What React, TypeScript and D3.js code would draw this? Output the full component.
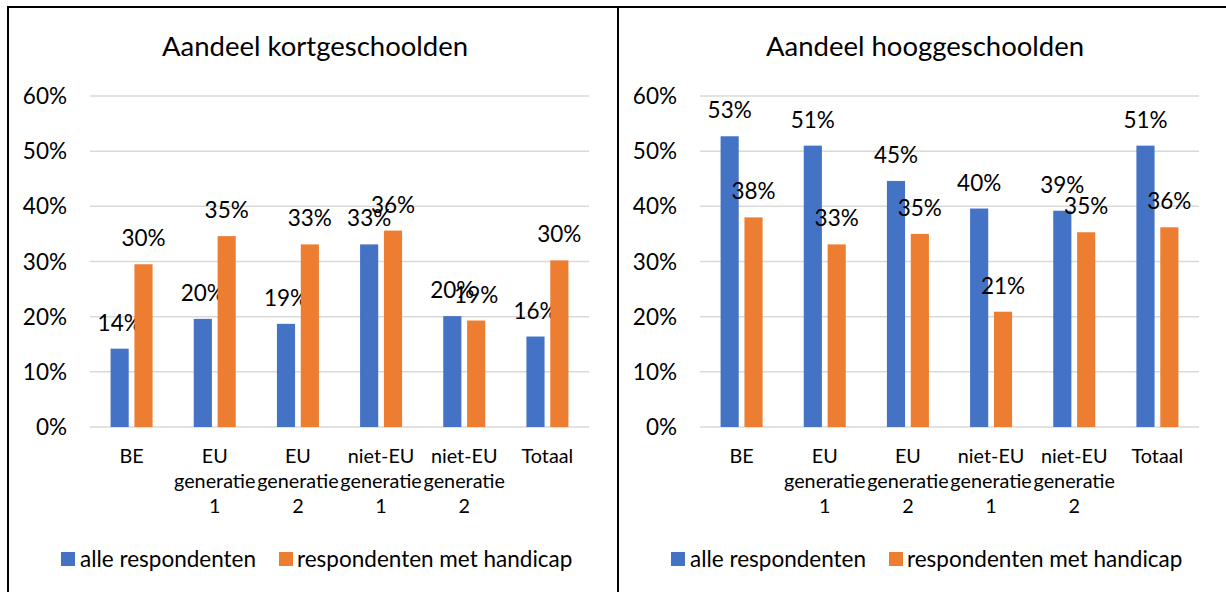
import React from "react";
import * as d3 from "d3";

const categories = ["BE", "EU generatie 1", "EU generatie 2", "niet-EU generatie 1", "niet-EU generatie 2", "Totaal"];
const seriesNames = ["alle respondenten", "respondenten met handicap"];
const kortAlle = [0.142, 0.196, 0.187, 0.331, 0.201, 0.164];
const kortHandicap = [0.295, 0.346, 0.331, 0.356, 0.193, 0.302];
const hoogAlle = [0.527, 0.51, 0.446, 0.396, 0.392, 0.51];
const hoogHandicap = [0.38, 0.331, 0.35, 0.209, 0.353, 0.362];
const yTicks = [0, 0.1, 0.2, 0.3, 0.4, 0.5, 0.6];
const colors = ["#4472C4", "#ED7D31"];

const FONT = "Lato, 'Open Sans', sans-serif";
const FS = 22.5;

function Panel({ x0, title, a, b }: { x0: number; title: string; a: number[]; b: number[] }) {
  const left = x0 + 90;
  const right = x0 + 589;
  const y = d3.scaleLinear().domain([0, 0.6]).range([427, 96]);
  const xb = d3.scaleBand().domain(categories).range([left, right]).paddingInner(0).paddingOuter(0);
  const inner = d3.scaleBand().domain(["0", "1"]).range([0, 42]).paddingInner(0.24);
  const fmt = d3.format(".0%");
  const series = [a, b];
  return (
    <g>
      <text x={x0 + 315} y={56} textAnchor="middle" fontSize={27.5} fontFamily={FONT} fill="#000">
        {title}
      </text>
      {yTicks.map((t) => (
        <g key={t}>
          <line x1={left} x2={right} y1={y(t)} y2={y(t)} stroke="#d9d9d9" strokeWidth={1.5} />
          <text x={x0 + 67} y={y(t)} dy="0.36em" textAnchor="end" fontSize={FS} fontFamily={FONT} fill="#000">
            {fmt(t)}
          </text>
        </g>
      ))}
      {categories.map((c, i) => {
        const cx = (xb(c) as number) + xb.bandwidth() / 2;
        const gx = cx - 21;
        return (
          <g key={c}>
            {series.map((s, k) => {
              const bx = gx + (inner(String(k)) as number);
              const bw = inner.bandwidth();
              return (
                <g key={k}>
                  <rect x={bx} y={y(s[i])} width={bw} height={y(0) - y(s[i])} fill={colors[k]} />
                  <text x={bx + bw / 2} y={y(s[i]) - 18} textAnchor="middle" fontSize={FS} fontFamily={FONT} fill="#000">
                    {fmt(s[i])}
                  </text>
                </g>
              );
            })}
            {c.split(" ").map((w, j) => (
              <text key={j} x={cx} y={463 + j * 25} textAnchor="middle" fontSize={19.8} fontFamily={FONT} fill="#000">
                {w}
              </text>
            ))}
          </g>
        );
      })}
      <rect x={x0 + 61} y={552} width={14} height={14} fill={colors[0]} />
      <text x={x0 + 80} y={559} dy="0.35em" fontSize={FS} fontFamily={FONT} fill="#000">
        {seriesNames[0]}
      </text>
      <rect x={x0 + 279} y={552} width={14} height={14} fill={colors[1]} />
      <text x={x0 + 297} y={559} dy="0.35em" fontSize={FS} fontFamily={FONT} fill="#000">
        {seriesNames[1]}
      </text>
    </g>
  );
}

export default function App() {
  return (
    <div style={{ position: "absolute", left: 0, top: 0 }}>
      <svg width={1226} height={592} style={{ display: "block", background: "#fff" }}>
        <rect x={0} y={0} width={1226} height={592} fill="#fff" />
        <Panel x0={0} title="Aandeel kortgeschoolden" a={kortAlle} b={kortHandicap} />
        <Panel x0={610} title="Aandeel hooggeschoolden" a={hoogAlle} b={hoogHandicap} />
        <line x1={8} x2={1226} y1={7} y2={7} stroke="#000" strokeWidth={2} />
        <line x1={8} x2={8} y1={6} y2={592} stroke="#000" strokeWidth={2} />
        <line x1={618} x2={618} y1={6} y2={592} stroke="#000" strokeWidth={2} />
      </svg>
    </div>
  );
}
